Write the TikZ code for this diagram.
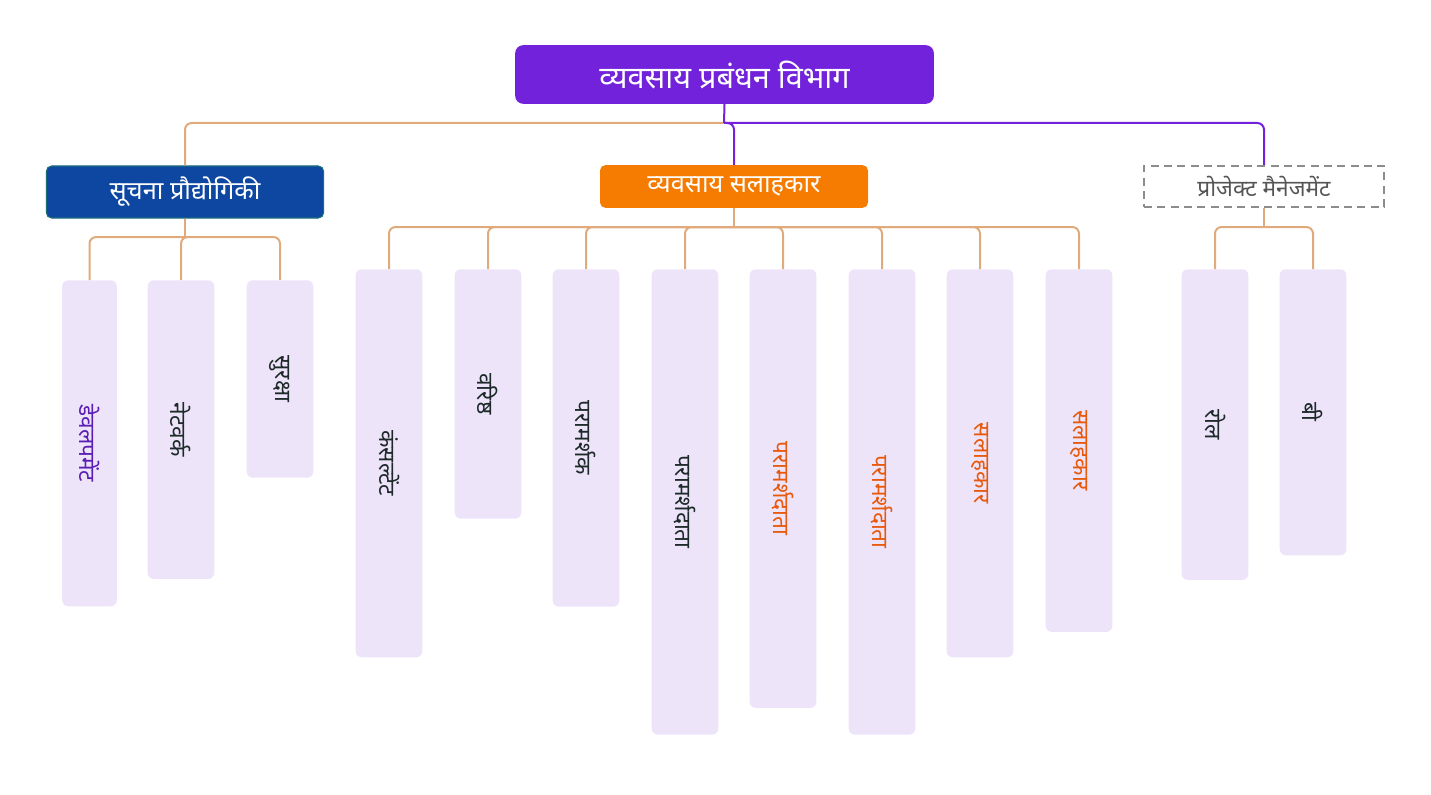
\documentclass[tikz,border=0pt]{standalone}
\usepackage{fontspec}
\setmainfont[Script=Devanagari]{Noto Sans}
\usepackage{graphicx}
\usetikzlibrary{positioning}
\definecolor{rootc}{RGB}{113,34,218}
\definecolor{itc}{RGB}{14,71,161}
\definecolor{itedge}{RGB}{30,110,122}
\definecolor{bcc}{RGB}{245,124,0}
\definecolor{pmgray}{RGB}{140,140,140}
\definecolor{pmtext}{RGB}{85,85,85}
\definecolor{tan}{RGB}{224,170,125}
\definecolor{leafc}{RGB}{237,228,250}
\definecolor{dark}{RGB}{30,42,42}
\definecolor{leafpurple}{RGB}{91,31,181}
\definecolor{leaforange}{RGB}{232,89,12}

\begin{document}
\begin{tikzpicture}[x=0.75pt, y=-0.75pt]
      \tikzstyle{head} = [rounded corners=6pt, text=white, inner sep=0pt, font=\bfseries\fontsize{19}{21}\selectfont]
      \tikzstyle{leaf} = [fill=leafc, rounded corners=4.5pt, anchor=north, minimum width=50pt, inner sep=0pt, font=\fontsize{17}{19}\selectfont]
      \tikzstyle{tanline} = [draw=tan, line width=1.5pt, rounded corners=5pt]
      \tikzstyle{purpline} = [draw=rootc, line width=1.5pt, rounded corners=5pt]
      \useasboundingbox (0,0) rectangle (1431,795);

      \node [head, fill=rootc, minimum width=314pt, minimum height=44pt, font=\bfseries\fontsize{23}{25}\selectfont] (root) at (724.5,74.5) {व्यवसाय प्रबंधन विभाग};
      \node [head, fill=itc, draw=itedge, line width=0.8pt, rounded corners=4pt, minimum width=208pt, minimum height=39pt] (it) at (185,192) {सूचना प्रौद्योगिकी};
      \node [head, fill=bcc, rounded corners=4pt, minimum width=201pt, minimum height=32pt] (bc) at (734,186.5) {व्यवसाय सलाहकार};
      \node [draw=pmgray, dash pattern=on 6pt off 4pt, line width=1.5pt, text=pmtext, minimum width=180pt, minimum height=31pt, inner sep=0pt, font=\fontsize{17}{19}\selectfont] (pm) at (1264,186.5) {प्रोजेक्ट मैनेजमेंट};

      % IT
      \node [leaf, minimum width=41pt, minimum height=244.5pt, text=leafpurple] (dev) at (89.5,280) {\rotatebox{-90}{डेवलपमेंट}};
      \node [leaf, minimum height=224pt, text=dark] (net) at (181,280) {\rotatebox{-90}{नेटवर्क}};
      \node [leaf, minimum height=148pt, text=dark] (sec) at (280,280) {\rotatebox{-90}{सुरक्षा}};

      % business consultant
      \node [leaf, minimum height=291pt, text=dark] (cons) at (389,269) {\rotatebox{-90}{कंसल्टेंट}};
      \node [leaf, minimum height=187pt, text=dark] (senior) at (488,269) {\rotatebox{-90}{वरिष्ठ}};
      \node [leaf, minimum height=253pt, text=dark] (para) at (586,269) {\rotatebox{-90}{परामर्शक}};
      \node [leaf, minimum height=349pt, text=dark] (adv1) at (685,269) {\rotatebox{-90}{परामर्शदाता}};
      \node [leaf, minimum height=329pt, text=leaforange] (adv2) at (783,269) {\rotatebox{-90}{परामर्शदाता}};
      \node [leaf, minimum height=349pt, text=leaforange] (adv3) at (882,269) {\rotatebox{-90}{परामर्शदाता}};
      \node [leaf, minimum height=291pt, text=leaforange] (sal1) at (980,269) {\rotatebox{-90}{सलाहकार}};
      \node [leaf, minimum height=272pt, text=leaforange] (sal2) at (1079,269) {\rotatebox{-90}{सलाहकार}};

      % project management
      \node [leaf, minimum height=233pt, text=dark] (role) at (1215,269) {\rotatebox{-90}{रोल}};
      \node [leaf, minimum height=214.5pt, text=dark] (bee) at (1313,269) {\rotatebox{-90}{बी}};

      \coordinate (rj) at (724,123);
      \coordinate (itj) at (185,237);
      \coordinate (bcj) at (734,227);
      \coordinate (pmj) at (1264,227);

      \draw [tanline] (rj) -| (it.north);
      \draw [purpline] (root.south) -- (rj);
      \draw [purpline] (rj) -| (bc.north);
      \draw [purpline] (rj) -| (pm.north);

      \draw [tanline] (it.south) -- (itj);
      \foreach \n in {dev,net,sec} {
        \draw [tanline] (itj) -| (\n.north);
      }
      \draw [tanline] (bc.south) -- (bcj);
      \foreach \n in {cons,senior,para,adv1,adv2,adv3,sal1,sal2} {
        \draw [tanline] (bcj) -| (\n.north);
      }
      \draw [tanline] (pm.south) -- (pmj);
      \foreach \n in {role,bee} {
        \draw [tanline] (pmj) -| (\n.north);
      }
    \end{tikzpicture}
\end{document}
